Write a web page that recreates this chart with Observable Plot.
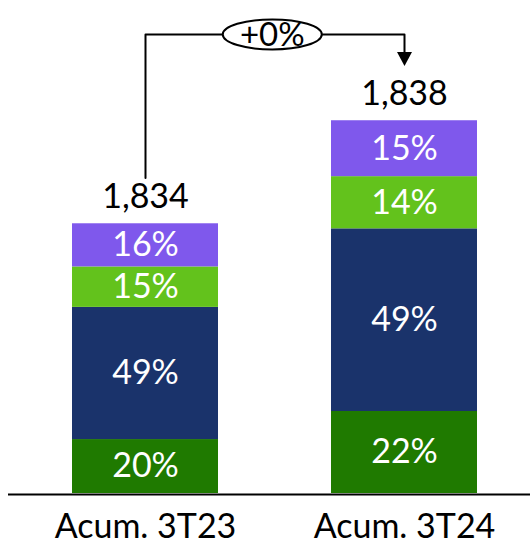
<!DOCTYPE html>
<html>
<head>
<meta charset="utf-8">
<script src="https://cdn.jsdelivr.net/npm/d3@7"></script>
<script src="https://cdn.jsdelivr.net/npm/@observablehq/plot@0.6"></script>
<style>
  html, body { margin: 0; padding: 0; background: #fff; }
</style>
</head>
<body>
<div id="chart"></div>
<script>
// Periods and their totals
const periods = ["Acum. 3T23", "Acum. 3T24"];
const totals = [1834, 1838];
// Relative height of each column as drawn
const barSize = [100, 138.2];

// Composition of each column, bottom to top (%)
const segments = ["seg1", "seg2", "seg3", "seg4"];
const shares3T23 = [20, 49, 15, 16];
const shares3T24 = [22, 49, 14, 15];
const segmentColors = ["#1f7a00", "#1a336b", "#63c21c", "#7f58ec"];

const sharesByPeriod = [shares3T23, shares3T24];
const rows = periods.flatMap((period, i) =>
  segments.map((segment, j) => ({
    period,
    segment,
    share: sharesByPeriod[i][j],
    value: sharesByPeriod[i][j] / 100 * barSize[i]
  }))
);
const totalRows = periods.map((period, i) => ({period, total: totals[i], size: barSize[i]}));

// Change between the two periods
const change = totals[1] / totals[0] - 1;
const changeText = d3.format("+.0%")(change);

// Bracket from the first column to the second
const bracketTop = d3.max(barSize) + 32;
const bracketStart = barSize[0] + 17;
const arrowY = barSize[1] + 23.7;
const bracket = [
  {period: periods[0], y: bracketStart},
  {period: periods[0], y: bracketTop},
  {period: periods[1], y: bracketTop},
  {period: periods[1], y: arrowY}
];

const xOptions = {domain: periods, range: [20, 530], paddingInner: 0.435, paddingOuter: 0.2};
const xs = Plot.scale({x: {type: "band", ...xOptions}});
const midDx = (xs.apply(periods[1]) - xs.apply(periods[0])) / 2 - 3;

const ellipse = {
  draw(ctx) {
    const rx = 49.5, ry = 15, k = 0.5523;
    ctx.moveTo(rx, 0);
    ctx.bezierCurveTo(rx, k * ry, k * rx, ry, 0, ry);
    ctx.bezierCurveTo(-k * rx, ry, -rx, k * ry, -rx, 0);
    ctx.bezierCurveTo(-rx, -k * ry, -k * rx, -ry, 0, -ry);
    ctx.bezierCurveTo(k * rx, -ry, rx, -k * ry, rx, 0);
    ctx.closePath();
  }
};
const arrowDown = {
  draw(ctx) {
    ctx.moveTo(-7.5, -4.7);
    ctx.lineTo(7.5, -4.7);
    ctx.lineTo(0, 9.3);
    ctx.closePath();
  }
};

const chart = Plot.plot({
  width: 530,
  height: 545,
  marginTop: 7.5,
  marginBottom: 52,
  marginLeft: 8,
  marginRight: 0,
  style: {fontFamily: "Lato, sans-serif", background: "#fff"},
  x: {type: "band", ...xOptions, label: null},
  y: {domain: [0, 180], axis: null},
  color: {domain: segments, range: segmentColors},
  marks: [
    Plot.barY(rows, {x: "period", y: "value", fill: "segment"}),
    Plot.text(rows, Plot.stackY({
      x: "period", y: "value", z: "segment",
      text: d => d.share + "%",
      fill: "#fff", fontSize: 34
    })),
    Plot.ruleY([0], {stroke: "#000", strokeWidth: 2, dy: 1}),
    Plot.axisX({tickSize: 0, tickPadding: 20, fontSize: 34, color: "#000", label: null}),
    Plot.text(totalRows, {
      x: "period", y: "size",
      text: d => d3.format(",")(d.total),
      dy: -27, fontSize: 34, fill: "#000"
    }),
    Plot.line(bracket, {x: "period", y: "y", stroke: "#000", strokeWidth: 2, curve: "linear"}),
    Plot.dot([bracket[3]], {x: "period", y: "y", symbol: arrowDown, fill: "#000", stroke: "none"}),
    Plot.dot([bracket[1]], {x: "period", y: "y", dx: midDx, symbol: ellipse, fill: "#fff", stroke: "#000", strokeWidth: 2}),
    Plot.text([bracket[1]], {x: "period", y: "y", dx: midDx, dy: 1, text: () => changeText, fontSize: 33, fill: "#000"})
  ]
});

document.getElementById("chart").appendChild(chart);
</script>
</body>
</html>
